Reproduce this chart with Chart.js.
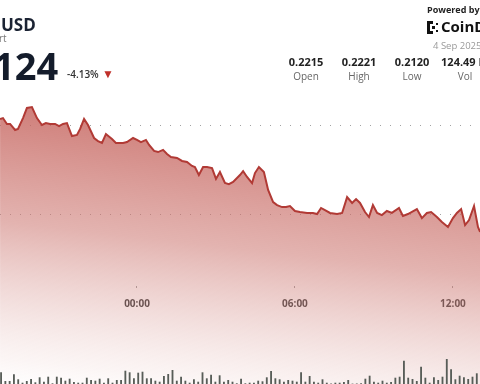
<!DOCTYPE html>
<html><head><meta charset="utf-8">
<script src="https://cdn.jsdelivr.net/npm/chart.js@4.4.0/dist/chart.umd.min.js"></script>
<style>
html,body{margin:0;padding:0;width:480px;height:384px;overflow:hidden;background:#fff;font-family:'Open Sans',sans-serif;}
#wrap{position:relative;width:480px;height:384px;overflow:hidden;}
canvas{position:absolute;left:0;top:0;}
.t{position:absolute;white-space:nowrap;line-height:1;}
.st{position:absolute;width:70px;text-align:center;line-height:1;}
.st b{display:block;font-size:11px;font-weight:700;color:#222;}
.st span{display:block;font-size:10px;color:#666;margin-top:4px;}
</style></head><body>
<div id="wrap">
<canvas id="c" width="480" height="384"></canvas>
<div class="t" style="left:1px;top:16px;font-size:17px;font-weight:700;color:#1b2333;">USD</div>
<div class="t" style="left:-1px;top:33px;font-size:10px;color:#777;">rt</div>
<div class="t" style="left:-7px;top:46px;font-size:38px;font-weight:700;color:#141c2b;">124</div>
<div class="t" style="left:67px;top:69px;font-size:10px;font-weight:600;color:#333;">-4.13%</div>
<div class="t" style="left:102px;top:68px;font-size:12px;color:#c0302a;">▼</div>
<div class="t" style="left:427px;top:5px;font-size:9px;font-weight:700;color:#222;">Powered by</div>
<svg class="t" style="left:427px;top:21px;" width="13" height="13" viewBox="0 0 13 13">
<rect x="0" y="0" width="6" height="3" fill="#111"/><rect x="0" y="0" width="3" height="13" fill="#111"/><rect x="0" y="10" width="6" height="3" fill="#111"/>
<rect x="5" y="5" width="3" height="3" fill="#111"/><rect x="9" y="2" width="2" height="2" fill="#111"/><rect x="9" y="9" width="2" height="2" fill="#111"/>
</svg>
<div class="t" style="left:441px;top:19px;font-size:15px;font-weight:700;color:#111;">CoinDesk</div>
<div class="t" style="left:433px;top:41px;font-size:9.5px;color:#9a9a9a;">4 Sep 2025</div>
<div class="st" style="left:271px;top:56px;"><b>0.2215</b><span>Open</span></div>
<div class="st" style="left:324px;top:56px;"><b>0.2221</b><span>High</span></div>
<div class="st" style="left:377px;top:56px;"><b>0.2120</b><span>Low</span></div>
<div class="st" style="left:430px;top:56px;"><b>124.49 M</b><span>Vol</span></div>
</div>
<script>
// Price series: time in hours relative to 00:00, and price in USD
const priceTimes = [-5.20,-5.09,-4.94,-4.82,-4.63,-4.52,-4.33,-4.18,-3.99,-3.80,-3.61,-3.46,-3.30,-3.11,-2.96,-2.81,-2.66,-2.47,-2.28,-2.16,-2.01,-1.86,-1.63,-1.48,-1.33,-1.18,-0.95,-0.80,-0.53,-0.38,-0.15,0.00,0.15,0.34,0.46,0.65,0.80,0.99,1.14,1.29,1.52,1.71,1.90,2.09,2.20,2.35,2.51,2.66,2.85,3.00,3.15,3.34,3.49,3.65,3.91,4.03,4.18,4.37,4.48,4.63,4.82,4.98,5.17,5.32,5.51,5.66,5.81,6.00,6.19,6.46,6.68,6.84,6.99,7.14,7.33,7.60,7.79,7.98,8.17,8.32,8.47,8.66,8.81,8.96,9.12,9.30,9.49,9.68,9.95,10.10,10.29,10.63,10.82,11.01,11.17,11.39,11.58,11.81,12.00,12.15,12.31,12.46,12.61,12.80,12.95,13.03,13.14];
const priceValues = [0.22034,0.22039,0.22006,0.22006,0.21972,0.21978,0.22039,0.22096,0.22101,0.22039,0.22000,0.22011,0.22006,0.22006,0.21994,0.22006,0.22011,0.21938,0.21944,0.21978,0.22034,0.22000,0.21927,0.21910,0.21899,0.21949,0.21921,0.21899,0.21899,0.21904,0.21927,0.21916,0.21904,0.21916,0.21888,0.21854,0.21848,0.21860,0.21837,0.21820,0.21815,0.21798,0.21792,0.21770,0.21764,0.21719,0.21764,0.21764,0.21758,0.21697,0.21736,0.21674,0.21668,0.21680,0.21719,0.21741,0.21708,0.21674,0.21730,0.21764,0.21736,0.21635,0.21567,0.21550,0.21539,0.21539,0.21545,0.21517,0.21511,0.21506,0.21506,0.21500,0.21534,0.21522,0.21506,0.21500,0.21506,0.21595,0.21562,0.21584,0.21562,0.21511,0.21483,0.21550,0.21506,0.21494,0.21517,0.21506,0.21534,0.21489,0.21500,0.21528,0.21477,0.21506,0.21511,0.21483,0.21455,0.21427,0.21477,0.21506,0.21528,0.21438,0.21466,0.21545,0.21427,0.21399,0.21360];
// Volume bars (relative units), one per 10-minute interval
const volValues = [11.7,3,3,9.7,4.7,1.3,3,5,1.7,6.7,2.3,7.3,0.7,7.3,6.3,3.3,5.3,2,1.3,1.3,6.3,4,3.3,5.3,1.3,5.7,1.3,4,4,13.3,11.7,5.7,11.3,12.3,5.7,5.7,3.3,2.3,
8,10,14,3.3,7.3,3.3,1.3,4.7,2.3,11.7,5.7,9.3,2.3,8.7,2.3,4,2.3,0.7,5.3,0.7,1.3,1.3,3.3,2.7,6.7,13,5.7,4.7,2.3,4,3.3,2.3,11.7,2.3,8,2.3,1.3,
4.7,1.3,0.4,1.3,1.3,2,4,0.4,0.5,0.7,5.3,8.3,2.3,1.3,3.3,1.3,2,6.3,7.3,23.3,6.3,5,3,17.3,6.3,1.3,6.7,4,7.3,25,14.7,4.7,8.3,6.7,5,7.3,10.7];
const xTickHours = [0, 6, 12];
const xTickLabels = ['00:00', '06:00', '12:00'];
const gridPrices = [0.215, 0.220];

const xMin = -5.203, xMax = 13.027;
const yMin = 0.20545, yMax = 0.225;
const xAxisAt = 0.21096;

function fillGrad(ctx) {
  const chart = ctx.chart; const a = chart.chartArea;
  if (!a) return 'rgba(200,110,105,0.5)';
  const g = chart.ctx.createLinearGradient(0, 100, -34, 400);
  g.addColorStop(0, 'rgba(196,96,90,0.82)');
  g.addColorStop(0.4, 'rgba(205,120,114,0.56)');
  g.addColorStop(0.68, 'rgba(215,150,145,0.28)');
  g.addColorStop(0.85, 'rgba(225,175,170,0.12)');
  g.addColorStop(1, 'rgba(255,255,255,0)');
  return g;
}

new Chart(document.getElementById('c'), {
  type: 'line',
  data: {
    labels: volValues.map((v, i) => i),
    datasets: [
      {
        type: 'bar', label: 'Vol', data: volValues, xAxisID: 'xv', yAxisID: 'yv',
        backgroundColor: '#585d58', borderWidth: 0, barPercentage: 0.86, categoryPercentage: 1, order: 0
      },
      {
        type: 'line', label: 'Price', xAxisID: 'x', yAxisID: 'y',
        data: priceTimes.map((t, i) => ({ x: t, y: priceValues[i] })),
        borderColor: '#b13a35', borderWidth: 2, pointRadius: 0, tension: 0,
        fill: 'start', backgroundColor: fillGrad, order: 1
      }
    ]
  },
  options: {
    responsive: false, animation: false, devicePixelRatio: 1,
    layout: { padding: { top: 36, left: 0, right: 0, bottom: 0 } },
    plugins: { legend: { display: false }, tooltip: { enabled: false } },
    scales: {
      x: {
        type: 'linear', min: xMin, max: xMax, offset: false, position: { y: xAxisAt },
        afterBuildTicks: s => { s.ticks = xTickHours.map(v => ({ value: v })); },
        grid: { drawOnChartArea: false, drawTicks: true, tickLength: 2, tickColor: '#9a9a9a', offset: false },
        border: { display: false },
        ticks: { callback: (v, i) => xTickLabels[i], font: { family: 'Open Sans', size: 10, weight: 'bold' }, color: '#333', padding: 10, maxRotation: 0, autoSkip: false }
      },
      xv: { type: 'category', display: false, offset: true, grid: { display: false, offset: true } },
      y: {
        type: 'linear', min: yMin, max: yMax, position: 'right', z: 1,
        afterBuildTicks: s => { s.ticks = gridPrices.map(v => ({ value: v })); },
        ticks: { display: false },
        grid: { drawTicks: false, color: 'rgba(140,140,140,0.8)', lineWidth: 1 },
        border: { display: false, dash: [1, 9] }
      },
      yv: { type: 'linear', display: false, min: 0, max: 348 }
    }
  }
});
</script>
</body></html>
